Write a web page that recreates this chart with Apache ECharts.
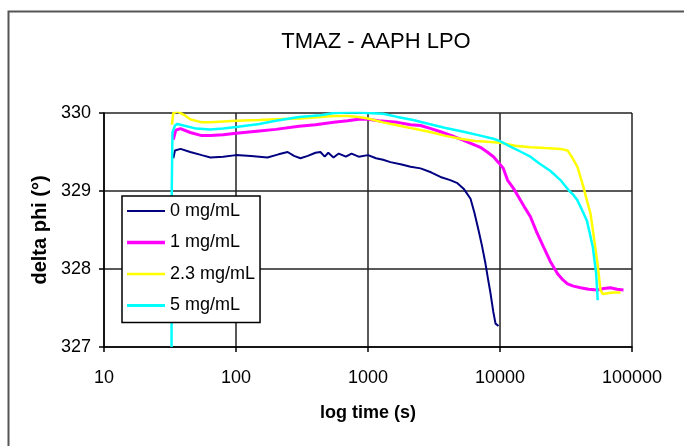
<!DOCTYPE html>
<html>
<head>
<meta charset="utf-8">
<script src="https://cdn.jsdelivr.net/npm/echarts@6/dist/echarts.min.js"></script>
<style>
  html, body { margin: 0; padding: 0; background: #fff; }
  #chart { width: 684px; height: 446px; }
</style>
</head>
<body>
<div id="chart"></div>
<script>
// series names
const names = ['0 mg/mL', '1 mg/mL', '2.3 mg/mL', '5 mg/mL'];
const colors = ['#000080', '#ff00ff', '#ffff00', '#00ffff'];

// 0 mg/mL
const t0 = [33.5, 34.5, 38, 45, 55, 64, 80, 100, 130, 173, 210, 246, 275, 308, 350, 400, 436, 470, 500, 548, 600, 680, 750, 850, 1000, 1150, 1300, 1480, 1800, 2100, 2500, 3000, 3540, 4200, 4760, 5300, 5980, 6400, 6870, 7300, 7760, 8100, 8470, 8900, 9250, 9750];
const v0 = [329.42, 329.52, 329.54, 329.5, 329.46, 329.43, 329.44, 329.46, 329.45, 329.43, 329.47, 329.5, 329.45, 329.42, 329.45, 329.49, 329.5, 329.44, 329.49, 329.43, 329.48, 329.44, 329.48, 329.44, 329.46, 329.42, 329.4, 329.37, 329.34, 329.31, 329.29, 329.24, 329.18, 329.14, 329.1, 329.03, 328.9, 328.72, 328.5, 328.3, 328.07, 327.88, 327.69, 327.45, 327.3, 327.27];

// 1 mg/mL
const t1 = [33.5, 35, 38, 45, 55, 64, 80, 100, 150, 200, 300, 400, 550, 700, 850, 1000, 1200, 1670, 2100, 2500, 3000, 3540, 4300, 5300, 6200, 7100, 8000, 8920, 9800, 10600, 11400, 12800, 14300, 15500, 17000, 19000, 21400, 24000, 27300, 30000, 32500, 36000, 40700, 47000, 54800, 61000, 68700, 77000, 86200];
const v1 = [329.66, 329.78, 329.8, 329.75, 329.71, 329.71, 329.72, 329.74, 329.77, 329.79, 329.83, 329.85, 329.88, 329.9, 329.92, 329.92, 329.9, 329.88, 329.85, 329.84, 329.8, 329.76, 329.71, 329.65, 329.6, 329.56, 329.5, 329.44, 329.36, 329.29, 329.14, 329.02, 328.88, 328.78, 328.67, 328.47, 328.28, 328.1, 327.94, 327.86, 327.81, 327.78, 327.76, 327.74, 327.73, 327.75, 327.76, 327.74, 327.73];

// 2.3 mg/mL
const t2 = [32.7, 33.5, 36, 40, 45, 55, 64, 80, 100, 150, 200, 308, 436, 550, 700, 850, 1000, 1300, 1700, 2200, 2900, 3800, 5000, 6500, 8000, 10000, 13000, 17000, 22000, 28700, 32500, 35500, 38600, 42900, 45500, 48500, 51500, 54800, 57700, 60000, 65200, 72000, 81800];
const v2 = [329.85, 330, 330.02, 329.98, 329.92, 329.88, 329.88, 329.89, 329.9, 329.91, 329.92, 329.93, 329.95, 329.96, 329.96, 329.95, 329.93, 329.88, 329.84, 329.8, 329.76, 329.71, 329.67, 329.64, 329.63, 329.62, 329.58, 329.56, 329.55, 329.54, 329.52, 329.42, 329.31, 329.05, 328.88, 328.71, 328.4, 328.07, 327.73, 327.68, 327.69, 327.7, 327.7];

// 5 mg/mL
const t3 = [32.5, 32.6, 33, 34.5, 36, 40, 50, 64, 80, 100, 150, 200, 300, 436, 550, 800, 1000, 1300, 1670, 2200, 2900, 3800, 5300, 7100, 8900, 10000, 12000, 14500, 17000, 20000, 24000, 28700, 31000, 33500, 36000, 38600, 42000, 45500, 48000, 50500, 53500, 55000];
const v3 = [327, 329.0, 329.75, 329.84, 329.86, 329.84, 329.8, 329.79, 329.8, 329.82, 329.86, 329.9, 329.95, 329.97, 330.0, 330.01, 330.0, 329.99, 329.95, 329.91, 329.86, 329.81, 329.76, 329.71, 329.67, 329.64, 329.57, 329.5, 329.44, 329.35, 329.26, 329.14, 329.07, 329.0, 328.95, 328.88, 328.75, 328.62, 328.45, 328.28, 327.94, 327.6];

const times = [t0, t1, t2, t3];
const values = [v0, v1, v2, v3];
const widths = [2, 3, 2.5, 2.5];

// flat line icons for the legend, 38x14 box
const icons = [
  'path://M0,0M38,14M0,6H38V8H0Z',
  'path://M0,0M38,14M0,5.25H38V8.75H0Z',
  'path://M0,0M38,14M0,5.75H38V8.25H0Z',
  'path://M0,0M38,14M0,5.5H38V8.5H0Z',
];

const font = '"Liberation Sans", Arial, sans-serif';

const chart = echarts.init(document.getElementById('chart'));

const series = names.map((name, i) => ({
  name: name,
  type: 'line',
  symbol: 'none',
  clip: true,
  data: times[i].map((t, j) => [t, values[i][j]]),
  lineStyle: { color: colors[i], width: widths[i] },
  itemStyle: { color: colors[i] },
}));

chart.setOption({
  animation: false,
  backgroundColor: '#fff',
  title: {
    text: 'TMAZ - AAPH LPO',
    left: 376,
    top: 31,
    textAlign: 'center',
    padding: 0,
    textStyle: { fontFamily: font, fontSize: 22, fontWeight: 'normal', color: '#000' },
  },
  graphic: [{
    type: 'rect',
    shape: { x: 8.5, y: 11.5, width: 700, height: 460 },
    style: { fill: null, stroke: '#555', lineWidth: 2 },
    silent: true,
  }],
  grid: { left: 104, right: 52, top: 113, bottom: 99, containLabel: false },
  legend: {
    orient: 'vertical',
    left: 122,
    top: 196,
    padding: [6, 5, 8, 5],
    itemGap: 13.5,
    itemWidth: 38,
    itemHeight: 14,
    backgroundColor: '#fff',
    borderColor: '#000',
    borderWidth: 1.5,
    borderRadius: 0,
    textStyle: { fontFamily: font, fontSize: 18, color: '#000', lineHeight: 18 },
    data: names.map((name, i) => ({ name: name, icon: icons[i] })),
  },
  xAxis: {
    type: 'log',
    logBase: 10,
    min: 10,
    max: 100000,
    name: 'log time (s)',
    nameLocation: 'middle',
    nameGap: 57,
    nameTextStyle: { fontFamily: font, fontSize: 18, fontWeight: 'bold', color: '#000' },
    axisLine: { lineStyle: { color: '#000', width: 1.5 } },
    axisTick: { show: true, length: 5, lineStyle: { color: '#000', width: 1.5 } },
    axisLabel: {
      margin: 22,
      fontFamily: font,
      fontSize: 18,
      color: '#000',
      formatter: (v) => String(Math.round(v)),
    },
    splitLine: { show: true, lineStyle: { color: '#222', width: 1.5 } },
    minorTick: { show: false },
  },
  yAxis: {
    type: 'value',
    min: 327,
    max: 330,
    interval: 1,
    name: 'delta phi (°)',
    nameLocation: 'middle',
    nameRotate: 90,
    nameGap: 49,
    nameTextStyle: { fontFamily: font, fontSize: 20, fontWeight: 'bold', color: '#000' },
    axisLine: { show: true, lineStyle: { color: '#000', width: 1.5 } },
    axisTick: { show: true, length: 5, lineStyle: { color: '#000', width: 1.5 } },
    axisLabel: { margin: 13, fontFamily: font, fontSize: 18, color: '#000' },
    splitLine: { show: true, lineStyle: { color: '#222', width: 1.5 } },
  },
  series: series,
});
</script>
</body>
</html>
